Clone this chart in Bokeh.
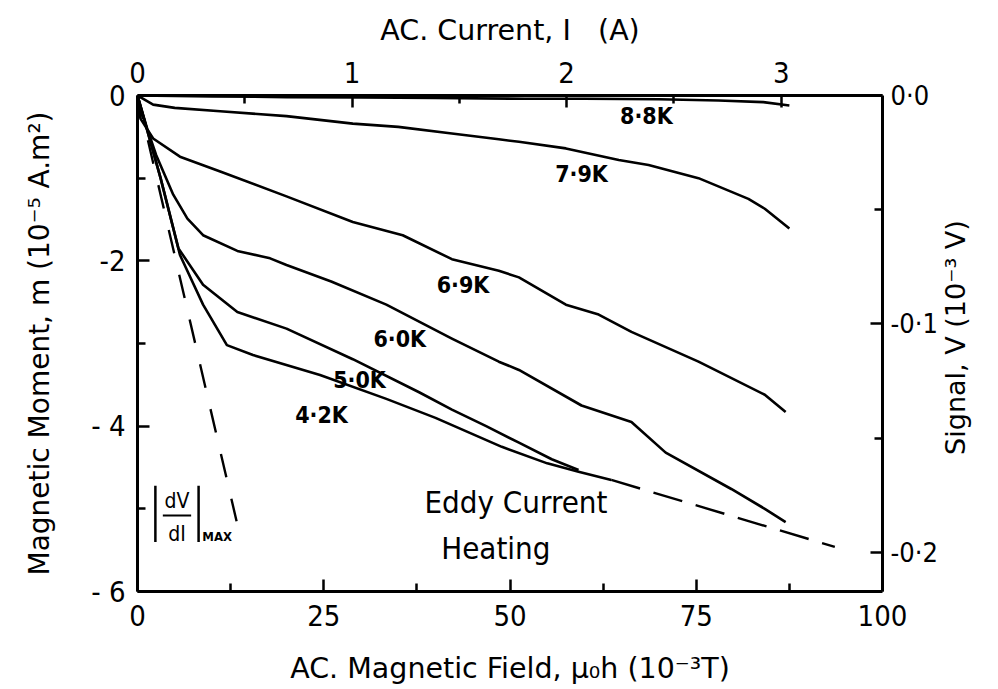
import math
from bokeh.plotting import figure
from bokeh.layouts import row
from bokeh.models import Range1d, LinearAxis, FixedTicker
from bokeh.core.properties import value
from bokeh.embed import file_html
from bokeh.resources import INLINE

# ---------------- data ----------------
h_88 = [0, 10, 20, 30, 40, 52, 60, 70, 78, 84, 87.5]
m_88 = [0, -0.01, -0.02, -0.025, -0.03, -0.04, -0.04, -0.045, -0.06, -0.08, -0.12]

h_79 = [0, 2.1, 5, 11.1, 20, 28.9, 35, 42.2, 48.5, 51.2, 57.5, 64.6, 68.6, 75.3, 82, 84.2, 87.5]
m_79 = [0, -0.11, -0.15, -0.19, -0.25, -0.34, -0.38, -0.46, -0.53, -0.56, -0.64, -0.78, -0.84, -1.0, -1.25, -1.37, -1.61]

h_69 = [0, 0.4, 2.1, 5.7, 11.1, 20, 28.9, 35.6, 42.2, 48.5, 51.2, 57.5, 61.9, 66.3, 75.3, 84.2, 87]
m_69 = [0, -0.28, -0.52, -0.74, -0.92, -1.22, -1.53, -1.69, -1.98, -2.12, -2.2, -2.53, -2.65, -2.86, -3.22, -3.62, -3.83]

h_60 = [0, 1.3, 2.5, 4.8, 6.7, 8.8, 13.4, 17.8, 20, 26, 33.4, 42.2, 48.5, 51.2, 59.6, 66.3, 70.9, 79.7, 84.2, 87]
m_60 = [0, -0.4, -0.72, -1.2, -1.49, -1.69, -1.88, -1.97, -2.05, -2.25, -2.53, -2.94, -3.22, -3.32, -3.75, -3.95, -4.32, -4.76, -5.0, -5.16]

h_50 = [0, 3.1, 5.5, 8.8, 13.4, 20, 28.9, 37.8, 42.2, 46.8, 51.2, 55.6, 59.2]
m_50 = [0, -1.0, -1.85, -2.29, -2.62, -2.82, -3.19, -3.59, -3.8, -4.0, -4.2, -4.4, -4.53]

h_42 = [0, 3.1, 5.7, 8.8, 12, 15.5, 24.5, 33.4, 40, 48.9, 55, 59.2, 63.6]
m_42 = [0, -1.0, -1.93, -2.53, -3.02, -3.14, -3.38, -3.67, -3.9, -4.25, -4.45, -4.55, -4.65]

h_heat = [63.6, 93.6]
m_heat = [-4.65, -5.46]

h_dvdi = [0, 13.3]
m_dvdi = [0, -5.15]

curve_labels = ["8·8K", "7·9K", "6·9K", "6·0K", "5·0K", "4·2K"]
label_h = [68.3, 59.6, 43.7, 35.2, 29.8, 24.7]
label_m = [-0.25, -0.95, -2.29, -2.95, -3.44, -3.87]

x_ticks = [0, 25, 50, 75, 100]
y_ticks = [0, -2, -4, -6]
i_ticks = [0, 1, 2, 3]
v_ticks = [0.0, -0.1, -0.2]
v_labels = {0.0: "0·0", -0.1: "-0·1", -0.2: "-0·2"}

MT_PER_AMP = 28.8      # top axis: 1 A = 28.8 x 10^-3 T
M_PER_VOLT = 27.64     # right axis: 0.1 mV = 2.764 x 10^-5 A.m^2

FONT = "DejaVu Sans Condensed"
LFONT = "DejaVu Sans"
NB = "\u00a0"

p = figure(width=940, height=689, output_backend="svg", toolbar_location=None,
           x_range=Range1d(0, 100), y_range=Range1d(-6, 0),
           min_border_left=137, min_border_right=55, min_border_top=95, min_border_bottom=98,
           x_axis_location=None, y_axis_location=None)
p.grid.visible = False
p.outline_line_color = None
p.background_fill_color = "white"
p.border_fill_color = "white"

p.extra_x_ranges = {"cur": Range1d(0, 100 / MT_PER_AMP)}
p.extra_y_ranges = {"sig": Range1d(-6 / M_PER_VOLT, 0)}


def style(ax, size):
    ax.axis_line_width = 3
    ax.axis_line_color = "black"
    ax.major_tick_in = 12
    ax.major_tick_out = 0
    ax.minor_tick_in = 8
    ax.minor_tick_out = 0
    ax.major_tick_line_width = 2.5
    ax.minor_tick_line_width = 2.5
    ax.major_label_text_font = FONT
    ax.major_label_text_font_size = size
    ax.major_label_text_color = "black"
    ax.axis_label_text_font = LFONT
    ax.axis_label_text_font_size = "28.5px"
    ax.axis_label_text_font_style = "normal"
    ax.axis_label_text_color = "black"


bottom = LinearAxis(ticker=FixedTicker(ticks=x_ticks, minor_ticks=[12.5, 37.5, 62.5, 87.5]),
                    axis_label="AC. Magnetic Field, μ₀h (10⁻³T)")
style(bottom, "29px")
bottom.major_label_standoff = 13
bottom.axis_label_standoff = 23
p.add_layout(bottom, "below")

left = LinearAxis(ticker=FixedTicker(ticks=y_ticks, minor_ticks=[-1, -3, -5]),
                  axis_label="Magnetic Moment, m (10⁻⁵ A.m²)")
style(left, "29px")
left.axis_label_text_font_size = "28px"
left.major_label_standoff = 12
left.axis_label_standoff = 32
left.major_label_overrides = {0: "0", -2: "-2", -4: "- 4", -6: "- 6"}
p.add_layout(left, "left")

top = LinearAxis(x_range_name="cur", ticker=FixedTicker(ticks=i_ticks, minor_ticks=[0.5, 1.5, 2.5]),
                 axis_label="AC. Current, I" + NB + NB + NB + "(A)")
style(top, "29px")
top.major_label_standoff = 13
top.axis_label_standoff = 12
p.add_layout(top, "above")

right = LinearAxis(y_range_name="sig", ticker=FixedTicker(ticks=v_ticks, minor_ticks=[-0.05, -0.15]))
style(right, "27px")
right.major_label_overrides = v_labels
right.major_label_standoff = 8
p.add_layout(right, "right")

for hx, my in [(h_88, m_88), (h_79, m_79), (h_69, m_69), (h_60, m_60), (h_50, m_50), (h_42, m_42)]:
    p.line(hx, my, line_color="black", line_width=2.6, line_join="round")

p.line(h_heat, m_heat, line_color="black", line_width=2.4, line_dash="30 14")
p.line(h_dvdi, m_dvdi, line_color="black", line_width=2.4, line_dash="24 22")

p.text(label_h, label_m, text=curve_labels, text_font=value(FONT), text_font_size="23px",
       text_font_style="bold", text_align="center", text_baseline="middle", text_color="black")

p.text([50.8, 48.1], [-4.92, -5.47], text=["Eddy Current", "Heating"], text_font=value(FONT),
       text_font_size="31px", text_align="center", text_baseline="middle", text_color="black")

# |dV/dI|_MAX annotation
p.segment(x0=[2.4, 8.2], y0=[-4.72, -4.72], x1=[2.4, 8.2], y1=[-5.4, -5.4],
          line_color="black", line_width=2.5)
p.segment(x0=[3.4], y0=[-5.08], x1=[7.2], y1=[-5.08], line_color="black", line_width=2)
p.text([5.3, 5.3], [-4.9, -5.3], text=["dV", "dI"], text_font=value(FONT), text_font_size="21px",
       text_align="center", text_baseline="middle", text_color="black")
p.text([8.7], [-5.33], text=["MAX"], text_font=value(FONT), text_font_size="13px",
       text_font_style="bold", text_align="left", text_baseline="middle", text_color="black")

# narrow side panel carrying the right-hand axis title, reading upward
p2 = figure(width=50, height=689, output_backend="svg", toolbar_location=None,
            x_range=Range1d(0, 1), y_range=Range1d(0, 1), min_border=0,
            x_axis_location=None, y_axis_location=None)
p2.grid.visible = False
p2.outline_line_color = None
p2.background_fill_color = "white"
p2.border_fill_color = "white"
p2.text([0.3], [0.512], text=["Signal, V (10⁻³ V)"], angle=math.pi / 2,
        text_font=value(LFONT), text_font_size="27px", text_align="center",
        text_baseline="middle", text_color="black")

layout = row(p, p2)
open("out.html", "w").write(file_html(layout, INLINE))
